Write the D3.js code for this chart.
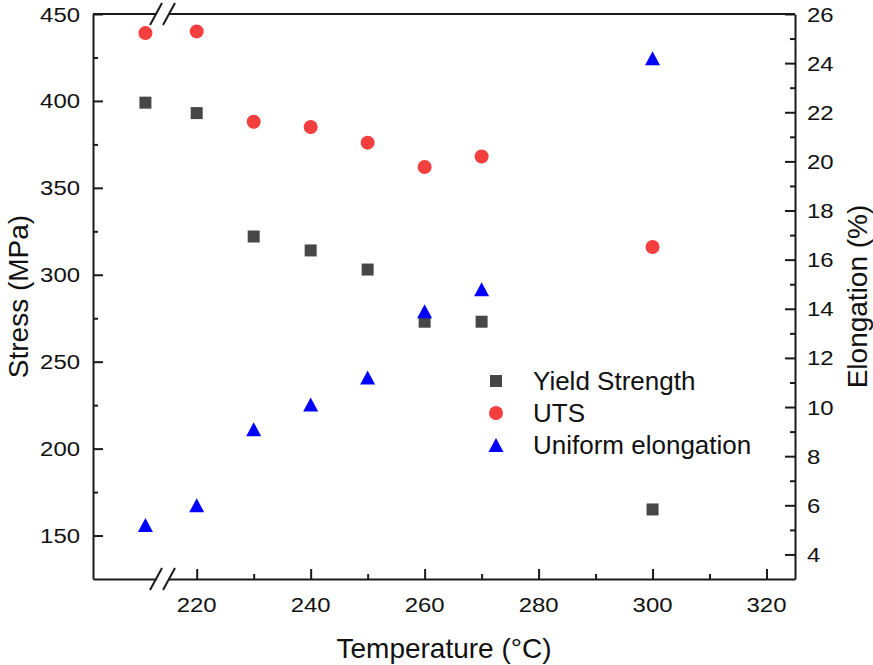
<!DOCTYPE html>
<html>
<head>
<meta charset="utf-8">
<script src="https://cdn.jsdelivr.net/npm/d3@7"></script>
<style>
  body { margin: 0; background: #fff; }
  text { font-family: "Liberation Sans", Arial, sans-serif; fill: #111; }
</style>
</head>
<body>
<script>
// data
const temps = [211, 220, 230, 240, 250, 260, 270, 300];
const yieldStrength = [399, 393, 322, 314, 303, 273, 273, 165];
const uts = [439, 440, 388, 385, 376, 362, 368, 316];
const elongation = [5.2, 6.0, 9.1, 10.1, 11.2, 13.9, 14.8, 24.2];

const xTicks = [220, 240, 260, 280, 300, 320];
const xMinor = [230, 250, 270, 290, 310];
const stressTicks = [150, 200, 250, 300, 350, 400, 450];
const stressMinor = [175, 225, 275, 325, 375, 425];
const elongTicks = [4, 6, 8, 10, 12, 14, 16, 18, 20, 22, 24, 26];
const elongMinor = [5, 7, 9, 11, 13, 15, 17, 19, 21, 23, 25];
const legendNames = ["Yield Strength", "UTS", "Uniform elongation"];
const xBreak = 214;

const W = 873, H = 665;
const plotL = 93, plotR = 795, plotT = 14, plotB = 579;

const svg = d3.select("body").append("svg")
    .attr("width", W).attr("height", H);

const x = d3.scaleLinear().domain([201.8, 325]).range([plotL, plotR]);
const yL = d3.scaleLinear().domain([125, 450]).range([plotB, plotT]);
const yR = d3.scaleLinear().domain([3, 26]).range([plotB, plotT]);

const axisColor = "#1a1a1a";
function styleAxis(g, keepDomain) {
    g.selectAll("path.domain").attr("stroke", axisColor).attr("stroke-width", 2);
    if (!keepDomain) g.select("path.domain").remove();
    g.selectAll(".tick line").attr("stroke", axisColor).attr("stroke-width", 2);
    g.selectAll(".tick text").remove();
}

// bottom axis
svg.append("g").attr("transform", `translate(0,${plotB})`)
    .call(d3.axisBottom(x).tickValues(xTicks).tickSize(-10).tickSizeOuter(0))
    .call(g => styleAxis(g, true));
svg.append("g").attr("transform", `translate(0,${plotB})`)
    .call(d3.axisBottom(x).tickValues(xMinor).tickSize(-5).tickSizeOuter(0))
    .call(g => styleAxis(g, false));

// top line
svg.append("line")
    .attr("x1", plotL).attr("x2", plotR).attr("y1", plotT).attr("y2", plotT)
    .attr("stroke", axisColor).attr("stroke-width", 2);

// left axis
svg.append("g").attr("transform", `translate(${plotL},0)`)
    .call(d3.axisLeft(yL).tickValues(stressTicks).tickSize(-10).tickSizeOuter(0))
    .call(g => styleAxis(g, true));
svg.append("g").attr("transform", `translate(${plotL},0)`)
    .call(d3.axisLeft(yL).tickValues(stressMinor).tickSize(-5).tickSizeOuter(0))
    .call(g => styleAxis(g, false));

// right axis
svg.append("g").attr("transform", `translate(${plotR},0)`)
    .call(d3.axisRight(yR).tickValues(elongTicks).tickSize(-10).tickSizeOuter(0))
    .call(g => styleAxis(g, true));
svg.append("g").attr("transform", `translate(${plotR},0)`)
    .call(d3.axisRight(yR).tickValues(elongMinor).tickSize(-5).tickSizeOuter(0))
    .call(g => styleAxis(g, false));

// axis break marks on top and bottom
const bx = x(xBreak);
[plotT, plotB].forEach(yy => {
    svg.append("rect")
        .attr("x", bx - 6).attr("y", yy - 3).attr("width", 12).attr("height", 6)
        .attr("fill", "#fff");
    [-6.5, 6.5].forEach(off => {
        svg.append("line")
            .attr("x1", bx + off - 6).attr("y1", yy + 11)
            .attr("x2", bx + off + 6).attr("y2", yy - 11)
            .attr("stroke", axisColor).attr("stroke-width", 2);
    });
});

// tick labels (slightly wide, like the original)
const tickFont = 21, stretch = 1.14;
svg.append("g").selectAll("text").data(stressTicks).join("text")
    .attr("transform", d => `translate(80,${yL(d)}) scale(${stretch},1)`)
    .attr("dy", "0.36em").attr("text-anchor", "end")
    .attr("font-size", tickFont).text(d => d);
svg.append("g").selectAll("text").data(elongTicks).join("text")
    .attr("transform", d => `translate(807,${yR(d)}) scale(${stretch},1)`)
    .attr("dy", "0.36em").attr("text-anchor", "start")
    .attr("font-size", tickFont).text(d => d);
svg.append("g").selectAll("text").data(xTicks).join("text")
    .attr("transform", d => `translate(${x(d)},612) scale(${stretch},1)`)
    .attr("text-anchor", "middle")
    .attr("font-size", tickFont).text(d => d);

// axis titles
svg.append("text")
    .attr("x", (plotL + plotR) / 2).attr("y", 658)
    .attr("text-anchor", "middle").attr("font-size", 28)
    .text("Temperature (\u00B0C)");
svg.append("text")
    .attr("transform", `translate(28,${(plotT + plotB) / 2}) rotate(-90)`)
    .attr("text-anchor", "middle").attr("font-size", 28)
    .text("Stress (MPa)");
svg.append("text")
    .attr("transform", `translate(867,${(plotT + plotB) / 2}) rotate(-90)`)
    .attr("text-anchor", "middle").attr("font-size", 28)
    .text("Elongation (%)");

// markers
const colors = ["#474747", "#f53e3e", "#0000ff"];
const sq = 12, cr = 7, tw = 15, th = 14;
function tri(cx, cy) {
    return `M${cx},${cy - th / 2}L${cx + tw / 2},${cy + th / 2}L${cx - tw / 2},${cy + th / 2}Z`;
}

const pts = svg.append("g");
pts.selectAll("rect").data(temps).join("rect")
    .attr("x", (d, i) => x(d) - sq / 2)
    .attr("y", (d, i) => yL(yieldStrength[i]) - sq / 2)
    .attr("width", sq).attr("height", sq)
    .attr("fill", colors[0]);
pts.selectAll("circle").data(temps).join("circle")
    .attr("cx", d => x(d))
    .attr("cy", (d, i) => yL(uts[i]))
    .attr("r", cr).attr("fill", colors[1]);
pts.selectAll("path").data(temps).join("path")
    .attr("d", (d, i) => tri(x(d), yR(elongation[i])))
    .attr("fill", colors[2]);

// legend
const lg = svg.append("g");
legendNames.forEach((name, i) => {
    const ly = 381 + i * 32;
    if (i === 0) lg.append("rect").attr("x", 496 - sq / 2).attr("y", ly - sq / 2)
        .attr("width", sq).attr("height", sq).attr("fill", colors[0]);
    if (i === 1) lg.append("circle").attr("cx", 496).attr("cy", ly).attr("r", cr)
        .attr("fill", colors[1]);
    if (i === 2) lg.append("path").attr("d", tri(496, ly)).attr("fill", colors[2]);
    lg.append("text").attr("x", 533).attr("y", ly).attr("dy", "0.36em")
        .attr("font-size", 26).text(name);
});
</script>
</body>
</html>
